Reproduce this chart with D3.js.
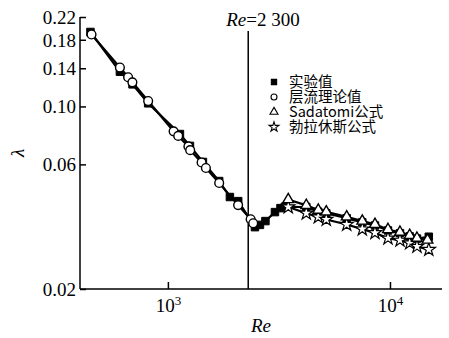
<!DOCTYPE html>
<html><head><meta charset="utf-8">
<script src="https://cdn.jsdelivr.net/npm/d3@7"></script>
</head>
<body style="margin:0"><svg id="c" width="449" height="338"></svg>
<script>
// ---- data ----
const expRe  = [448, 608, 693, 815, 1133, 1257, 1438, 1702, 1902, 2073, 2466, 2597, 2749, 3034, 3213, 3365, 4198, 4754, 5166, 6383, 7504, 8559, 9795, 11093, 12265, 13230, 14956];
const expLam = [0.1928, 0.1358, 0.1215, 0.1028, 0.0784, 0.0706, 0.0613, 0.0518, 0.0450, 0.0434, 0.0345, 0.0352, 0.0364, 0.0394, 0.0408, 0.0413, 0.0412, 0.0395, 0.0390, 0.0373, 0.0360, 0.0350, 0.0335, 0.0327, 0.0318, 0.0312, 0.0317];
const lamRe  = [453, 608, 662, 692, 815, 1061, 1113, 1237, 1260, 1418, 1483, 1702, 2071, 2358, 2422];
const lamLam = [0.1886, 0.1410, 0.1293, 0.1237, 0.1049, 0.0803, 0.0771, 0.0703, 0.0680, 0.0610, 0.0581, 0.0509, 0.0419, 0.0370, 0.0357];
const sadRe  = [3483, 4198, 4754, 5166, 6383, 7504, 8559, 9795, 11093, 12265, 13230, 14754];
const sadLam = [0.0440, 0.0418, 0.0401, 0.0395, 0.0378, 0.0364, 0.0354, 0.0338, 0.0330, 0.0321, 0.0313, 0.0308];
const blaRe  = [3483, 4198, 4754, 5166, 6383, 7504, 8559, 9795, 11093, 12265, 13230, 14956];
const blaLam = [0.0412, 0.0390, 0.0377, 0.0369, 0.0353, 0.0339, 0.0328, 0.0313, 0.0307, 0.0300, 0.0291, 0.0283];
const yTicks = [0.02, 0.06, 0.10, 0.14, 0.18, 0.22];
const xTicks = [1000, 10000];
const critRe = 2300;
const legendLabels = ["实验值", "层流理论值", "Sadatomi公式", "勃拉休斯公式"];

// ---- chart ----
const FONT = '"Liberation Serif"';
const CJK = '"Noto Sans CJK SC"';
const svg = d3.select("#c");
const x = d3.scaleLog().domain([402, 17150]).range([80, 442]);
const y = d3.scaleLog().domain([0.02, 0.22]).range([289, 17]);

const zip = (a, b) => a.map((v, i) => [v, b[i]]);
const exp = zip(expRe, expLam), lam = zip(lamRe, lamLam), sad = zip(sadRe, sadLam), bla = zip(blaRe, blaLam);

// axes
const ya = svg.append("g").attr("transform", "translate(80,0)")
  .call(d3.axisLeft(y).tickValues(yTicks).tickFormat(d3.format(".2f")).tickSize(-6).tickPadding(4));
const xa = svg.append("g").attr("transform", "translate(0,289)")
  .call(d3.axisBottom(x).tickValues(xTicks).tickFormat("").tickSize(-7));
[ya, xa].forEach(g => {
  g.attr("font-family", FONT).attr("font-size", 19);
  g.select(".domain").attr("stroke", "#000").attr("stroke-width", 1.5);
  g.selectAll(".tick line").attr("stroke", "#000").attr("stroke-width", 1.5);
});
ya.select(".domain").attr("d", "M0,289V17");
xa.select(".domain").attr("d", "M80,0H442");
ya.selectAll(".tick text").attr("font-family", FONT).attr("font-size", 19).attr("fill", "#000").attr("dy", "0.33em");
xa.selectAll(".tick").each(function(d) {
  const t = d3.select(this).append("text").attr("y", 23).attr("text-anchor", "middle")
    .attr("font-family", FONT).attr("font-size", 19).attr("fill", "#000");
  t.append("tspan").text("10");
  t.append("tspan").attr("dy", -7).attr("font-size", 13).text(Math.round(Math.log10(d)));
});

// axis titles
svg.append("text").attr("x", 261).attr("y", 332).attr("text-anchor", "middle").attr("font-family", FONT)
  .attr("font-size", 19).attr("font-style", "italic").text("Re");
svg.append("text").attr("transform", "translate(24,153) rotate(-90)").attr("text-anchor", "middle").attr("font-family", FONT)
  .attr("font-size", 19).attr("font-style", "italic").text("λ");

// critical line
svg.append("line").attr("x1", x(critRe)).attr("x2", x(critRe)).attr("y1", 31).attr("y2", 289)
  .attr("stroke", "#000").attr("stroke-width", 1.5);
const cl = svg.append("text").attr("x", x(critRe) - 22).attr("y", 26).attr("font-family", FONT).attr("font-size", 19);
cl.append("tspan").attr("font-style", "italic").text("Re");
cl.append("tspan").text("=2 300");

// lines
const line = d3.line().x(d => x(d[0])).y(d => y(d[1]));
[exp, lam, sad, bla].forEach(s => {
  svg.append("path").attr("d", line(s)).attr("fill", "none").attr("stroke", "#000").attr("stroke-width", 2.2);
});

const sym = (type, size) => d3.symbol().type(type).size(size);
function marks(data, type, size, fill, sw) {
  svg.append("g").selectAll("path").data(data).join("path")
    .attr("transform", d => `translate(${x(d[0])},${y(d[1])})`)
    .attr("d", sym(type, size)())
    .attr("fill", fill).attr("stroke", "#000").attr("stroke-width", sw);
}
marks(exp, d3.symbolSquare, 56, "#000", 1);
marks(lam, d3.symbolCircle, 60, "#fff", 1.4);
marks(bla, d3.symbolStar, 55, "#fff", 1.2);
marks(sad, d3.symbolTriangle, 50, "#fff", 1.4);

// legend
const lg = svg.append("g");
const lTypes = [[d3.symbolSquare, 28, "#000"], [d3.symbolCircle, 28, "#fff"], [d3.symbolTriangle, 28, "#fff"], [d3.symbolStar, 30, "#fff"]];
legendLabels.forEach((lab, i) => {
  const yy = 82 + i * 15;
  lg.append("path").attr("transform", `translate(274,${yy})`).attr("d", sym(lTypes[i][0], lTypes[i][1])())
    .attr("fill", lTypes[i][2]).attr("stroke", "#000").attr("stroke-width", 1.1);
  lg.append("text").attr("x", 289).attr("y", yy + 5).attr("font-size", 14.5).attr("font-family", CJK).text(lab);
});
</script></body></html>
